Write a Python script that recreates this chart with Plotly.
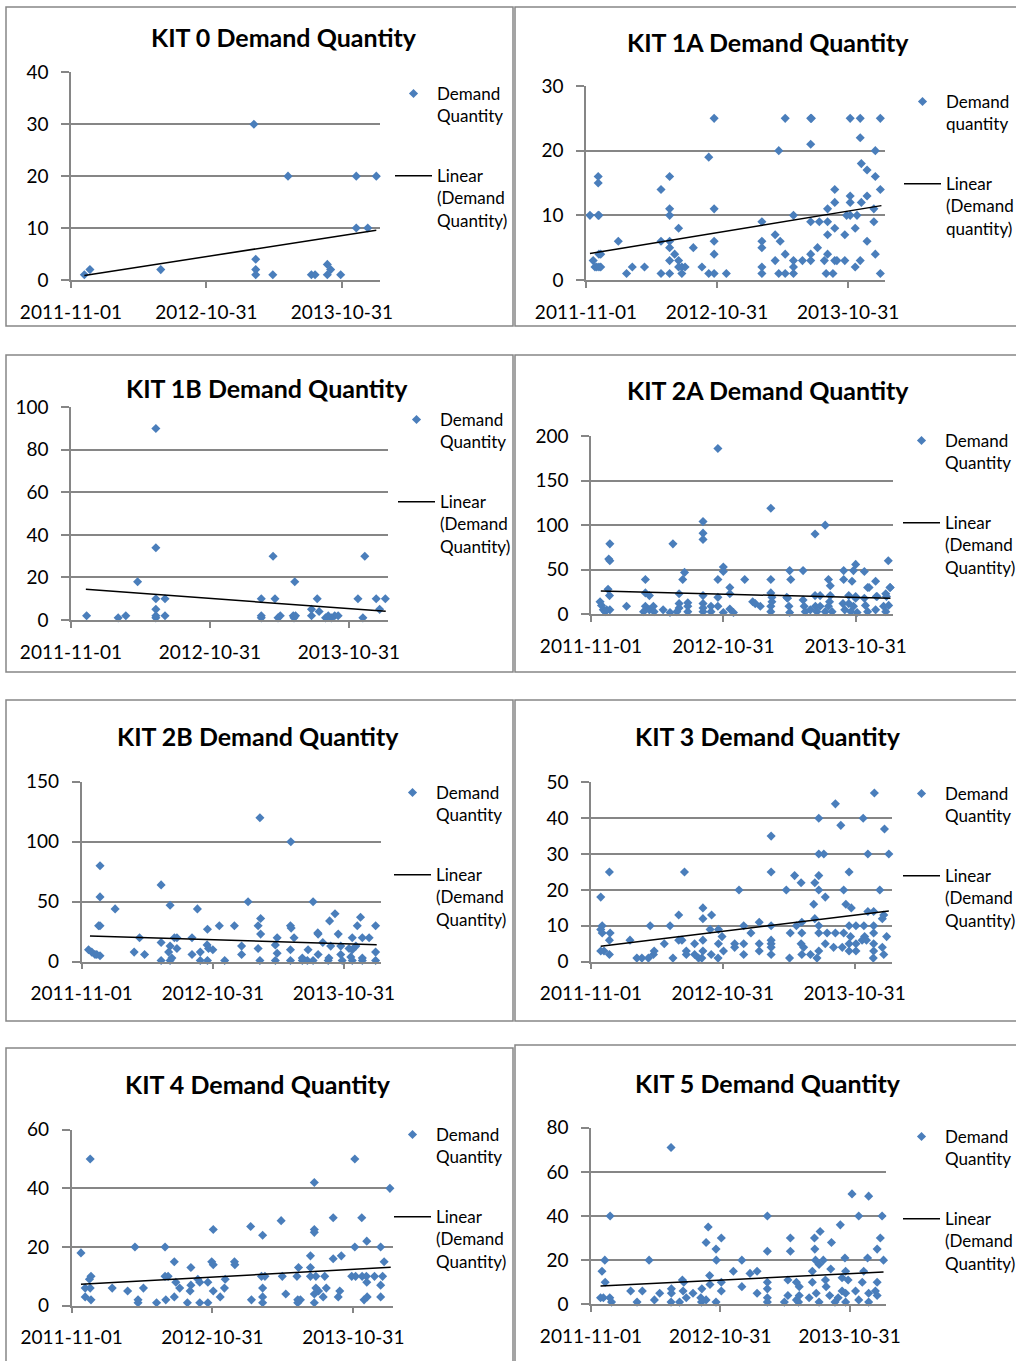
import pandas as pd
import plotly.graph_objects as go

# ---------------- DATA (days since 2011-11-01, demand quantity) ----------------
BASE_DATE = "2011-11-01"
TICK_DATES = ["2011-11-01", "2012-10-31", "2013-10-31"]
AXIS_END_DAYS = 833

kit0_days = [36, 51, 242, 493, 498, 498, 498, 544, 585, 648, 658, 691, 700, 691, 727, 769, 769, 800, 823]
kit0_qty = [1, 2, 2, 30, 4, 2, 1, 1, 20, 1, 1, 3, 2, 1, 1, 20, 10, 10, 20]
kit0_trend_days = [36, 823]
kit0_trend_qty = [0.85, 9.6]

kit1a_days = [357, 555, 626, 628, 736, 764, 820, 764, 626, 537, 806, 342, 767, 783, 34, 233, 806, 34,
              209, 693, 820, 736, 783, 693, 736, 767, 233, 357, 673, 802,
              11, 34, 36, 233, 578, 726, 736, 755, 490, 626, 650, 673, 802, 258, 693, 750, 527, 673, 721,
              90, 209, 233, 357, 490, 541, 783, 233, 299, 490, 645,
              36, 41, 247, 357, 555, 626, 673, 806,
              20, 233, 258, 527, 578, 603, 626, 664, 693, 699, 721, 764,
              25, 30, 36, 41, 129, 163, 258, 267, 276, 323, 490, 578, 750,
              113, 209, 233, 267, 342, 357, 391, 490, 537, 555, 578, 669, 688, 820]
kit1a_qty = [25, 25, 25, 25, 25, 25, 25, 22, 21, 20, 20, 19, 18, 17, 16, 16, 16, 15,
             14, 14, 14, 13, 13, 12, 12, 12, 11, 11, 11, 11,
             10, 10, 10, 10, 10, 10, 10, 10, 9, 9, 9, 9, 9, 8, 8, 8, 7, 7, 7,
             6, 6, 6, 6, 6, 6, 6, 5, 5, 5, 5,
             4, 4, 4, 4, 4, 4, 4, 4,
             3, 3, 3, 3, 3, 3, 3, 3, 3, 3, 3, 3,
             2, 2, 2, 2, 2, 2, 2, 2, 2, 2, 2, 2, 2,
             1, 1, 1, 1, 1, 1, 1, 1, 1, 1, 1, 1, 1, 1]
kit1a_trend_days = [11, 823]
kit1a_trend_qty = [4.1, 11.5]

kit1b_days = [41, 124, 144, 175, 223, 223, 223, 223, 223, 223, 247, 247, 500, 500, 500, 531, 536, 544,
              550, 584, 586, 588, 590, 632, 632, 647, 652, 669, 676, 684, 693, 702, 754, 767, 772,
              802, 811, 826]
kit1b_qty = [2, 1, 2, 18, 90, 34, 10, 5, 2, 1, 10, 2, 10, 2, 1, 30, 10, 1,
             2, 2, 1, 18, 2, 2, 5, 10, 4, 1, 2, 1, 2, 2, 10, 1, 30,
             10, 5, 10]
kit1b_trend_days = [39, 827]
kit1b_trend_qty = [14.4, 4.1]

kit2a_days = [350, 496, 309, 646, 618, 309, 309, 52, 226, 49, 52, 820, 365, 365, 730, 258, 697, 724,
              548, 585, 754, 150, 253, 350, 424, 496, 551, 655, 697, 720, 785, 660, 763, 825, 47,
              383, 383, 150, 161, 243, 496, 499, 540, 309, 350, 51, 618, 632, 660, 711, 730, 787,
              813, 25, 29, 34, 43, 52, 39, 98, 145, 150, 161, 172, 174, 199, 218, 243, 243, 237,
              267, 267, 267, 309, 309, 309, 331, 331, 350, 365, 383, 393, 446, 453, 467, 496, 496,
              499, 542, 546, 548, 585, 588, 591, 605, 619, 623, 632, 646, 655, 658, 665, 695, 700,
              711, 717, 724, 730, 734, 754, 757, 763, 767, 785, 789, 807, 813, 815, 821, 825]
kit2a_qty = [186, 119, 104, 100, 90, 91, 84, 79, 79, 62, 60, 60, 53, 48, 56, 47, 49, 49,
             49, 49, 48, 39, 39, 39, 39, 39, 39, 39, 39, 37, 37, 32, 30, 30, 28,
             30, 23, 24, 21, 23, 24, 19, 19, 21, 19, 21, 21, 21, 21, 21, 20, 20,
             23, 14, 10, 5, 5, 5, 3, 9, 3, 9, 5, 9, 3, 5, 2, 12, 7, 3,
             13, 9, 3, 12, 7, 3, 9, 3, 9, 2, 6, 2, 14, 12, 9, 9, 3,
             14, 18, 9, 2, 16, 9, 3, 5, 9, 3, 9, 3, 9, 14, 3, 12, 5,
             12, 3, 9, 18, 2, 18, 10, 3, 30, 5, 20, 9, 3, 20, 10, 30]
kit2a_trend_days = [27, 826]
kit2a_trend_qty = [26, 18]

kit2b_days = [496, 582, 51, 221, 51, 93, 246, 322, 463, 644, 705, 690, 776, 498,
              47, 51, 383, 425, 491, 581, 583, 767, 818, 350, 498, 657, 658, 714,
              161, 258, 265, 307, 544, 591, 753, 781, 800,
              221, 349, 246, 445, 539, 671, 693, 721, 763,
              265, 353, 365, 491, 581, 630, 744, 753, 19,
              28, 37, 51, 42, 146, 175, 242, 330, 307, 445, 544, 658, 721, 818, 749,
              221, 246, 330, 350, 398, 496, 539, 581, 614, 628, 644, 686, 725, 753, 781, 818,
              251, 614, 688, 781]
kit2b_qty = [120, 100, 80, 64, 54, 44, 47, 44, 50, 50, 40, 34, 37, 36,
             30, 30, 30, 30, 30, 30, 28, 30, 30, 27, 23, 24, 23, 23,
             20, 20, 20, 20, 20, 20, 20, 20, 20,
             16, 14, 13, 13, 14, 16, 13, 13, 13,
             11, 11, 10, 11, 10, 10, 11, 10, 10,
             8, 6, 5, 6, 8, 6, 8, 8, 6, 6, 7, 6, 6, 8, 4,
             1, 1, 1, 1, 1, 1, 1, 1, 1, 1, 1, 1, 1, 1, 1, 1,
             3, 3, 3, 3]
kit2b_trend_days = [23, 821]
kit2b_trend_qty = [21.5, 14.2]

kit3_days = [785, 677, 631, 754, 692, 813, 499, 631, 645, 767, 825, 51, 259, 499, 715, 564, 631, 582,
             620, 410, 541, 631, 700, 800, 27, 649, 617, 706, 721, 310, 310, 243, 334, 767, 783, 811,
             807, 620, 466, 584,
             31, 164, 219, 423, 499, 569, 631, 715, 734, 756, 783,
             27, 330, 353, 31, 53, 443, 552, 584, 631, 654, 677, 700, 783,
             363, 719, 819, 758,
             51, 108, 243, 252, 310, 499, 751, 763,
             203, 287, 353, 398, 423, 466, 499, 582, 649, 696, 715, 734, 783,
             27, 36, 264, 310, 367, 398, 466, 499, 589, 631, 672, 715, 734, 783, 807,
             51, 173, 264, 287, 333, 423, 499, 584, 608, 811,
             127, 141, 159, 227, 298, 307, 352, 550, 626, 782, 175]
kit3_qty = [47, 44, 40, 40, 38, 37, 35, 30, 30, 30, 30, 25, 25, 25, 25, 24, 24, 22,
            22, 20, 20, 20, 20, 20, 18, 18, 16, 16, 15, 15, 12, 13, 13, 14, 14, 13,
            12, 12, 11, 11,
            10, 10, 10, 10, 10, 10, 10, 10, 10, 10, 10,
            9, 9, 9, 8, 8, 8, 8, 8, 8, 8, 8, 8, 8,
            7, 7, 7, 7,
            6, 6, 6, 6, 6, 6, 6, 6,
            5, 5, 5, 5, 5, 5, 5, 5, 5, 4, 5, 5, 5,
            3, 3, 3, 3, 3, 4, 3, 4, 4, 3, 4, 3, 3, 3, 4,
            2, 2, 2, 2, 2, 2, 2, 2, 2, 2,
            1, 1, 1, 1, 1, 1, 1, 1, 1, 1, 3]
kit3_trend_days = [27, 825]
kit3_trend_qty = [4.3, 14.1]

kit4_days = [48, 734, 629, 825, 678, 752, 543, 464, 367, 495, 629, 629, 765, 24, 164, 242, 734, 801,
             619, 699, 678, 266, 363, 422, 810, 367, 423, 309, 588, 619,
             50, 46, 242, 250, 327, 398, 492, 501, 546, 584, 619, 633, 656, 726, 736, 753, 764, 785, 806,
             270, 332, 353, 309, 280, 765, 35, 48, 105, 186, 396, 495, 633, 660, 801,
             640, 145, 367, 307, 695,
             35, 50, 172, 244, 266, 385, 466, 495, 555, 586, 593, 652, 691, 758, 766, 801, 629,
             172, 220, 300, 332, 353, 495, 586, 629]
kit4_qty = [50, 50, 42, 40, 30, 30, 29, 27, 26, 24, 25, 26, 22, 18, 20, 20, 20, 20,
            17, 17, 16, 15, 15, 15, 15, 14, 14, 13, 13, 13,
            10, 9, 10, 10, 9, 9, 10, 10, 10, 10, 10, 10, 10, 10, 10, 10, 10, 10, 10,
            8, 8, 8, 7, 6, 8, 6, 6, 6, 6, 6, 6, 6, 6, 7,
            5, 5, 5, 5, 5,
            3, 2, 2, 2, 3, 3, 2, 3, 4, 2, 2, 3, 3, 2, 3, 3, 4,
            1, 1, 1, 1, 1, 1, 1, 1]
kit4_trend_days = [24, 827]
kit4_trend_qty = [7.3, 13.1]

kit5_days = [226, 737, 784, 54, 498, 756, 822, 704, 331, 647, 368, 563, 631, 817, 325, 679, 498, 563,
             632, 353, 808,
             39, 164, 354, 426, 656, 717, 634, 644, 781, 826,
             31, 402, 469, 449, 335, 677, 625, 719, 770,
             40, 258, 262, 368, 498, 556, 580, 625, 662, 709, 726, 766, 808,
             112, 145, 227, 260, 313, 368, 426, 498, 588, 664, 709, 747, 803,
             194, 227, 288, 336, 469, 556, 588, 636, 674, 719, 784, 808,
             27, 35, 53, 179, 269, 310, 325, 498, 580, 616, 698, 756,
             58, 130, 226, 250, 312, 353, 498, 546, 586, 644, 689, 719, 784]
kit5_qty = [71, 50, 49, 40, 40, 40, 40, 36, 35, 33, 30, 30, 30, 30, 28, 28, 24, 24,
            25, 25, 25,
            20, 20, 20, 20, 20, 21, 20, 18, 21, 20,
            15, 15, 15, 14, 13, 16, 15, 15, 15,
            10, 11, 10, 10, 10, 11, 10, 10, 11, 12, 11, 10, 10,
            6, 6, 7, 6, 7, 6, 8, 7, 8, 8, 6, 6, 6,
            5, 5, 5, 9, 5, 4, 4, 5, 4, 5, 5, 4,
            3, 3, 3, 2, 3, 3, 2, 3, 2, 3, 3, 2,
            1, 1, 1, 1, 1, 1, 1, 1, 1, 1, 1, 1, 1]
kit5_trend_days = [27, 826]
kit5_trend_qty = [8.3, 14.6]

# ---------------- LAYOUT SPEC (pixels in a 1016 x 1361 page) ----------------
W, H = 1016, 1361
BLUE = "#4A7EBB"
GRID = "#868686"
FONT = "Lato"

panels = [
    dict(title="KIT 0 Demand Quantity", days=kit0_days, qty=kit0_qty, td=kit0_trend_days, tq=kit0_trend_qty,
         ymax=40, dtick=10, plot=(71, 380, 72.3, 280), box=(6, 513, 7, 326), tpos=(284, 37),
         leg=(410, 94), name="Demand<br>Quantity", lname="Linear<br>(Demand<br>Quantity)"),
    dict(title="KIT 1A Demand Quantity", days=kit1a_days, qty=kit1a_qty, td=kit1a_trend_days, tq=kit1a_trend_qty,
         ymax=30, dtick=10, plot=(586, 885, 86, 280), box=(515, 1020, 7, 326), tpos=(768, 42),
         leg=(919, 102), name="Demand<br>quantity", lname="Linear<br>(Demand<br>quantity)"),
    dict(title="KIT 1B Demand Quantity", days=kit1b_days, qty=kit1b_qty, td=kit1b_trend_days, tq=kit1b_trend_qty,
         ymax=100, dtick=20, plot=(71, 388, 407.3, 620), box=(6, 513, 355, 672), tpos=(267, 388),
         leg=(413, 420), name="Demand<br>Quantity", lname="Linear<br>(Demand<br>Quantity)"),
    dict(title="KIT 2A Demand Quantity", days=kit2a_days, qty=kit2a_qty, td=kit2a_trend_days, tq=kit2a_trend_qty,
         ymax=200, dtick=50, plot=(591, 893, 436, 614.3), box=(515, 1020, 355, 672), tpos=(768, 390),
         leg=(918, 441), name="Demand<br>Quantity", lname="Linear<br>(Demand<br>Quantity)"),
    dict(title="KIT 2B Demand Quantity", days=kit2b_days, qty=kit2b_qty, td=kit2b_trend_days, tq=kit2b_trend_qty,
         ymax=150, dtick=50, plot=(81.7, 381, 781.7, 961.7), box=(6, 513, 700, 1021), tpos=(258, 736),
         leg=(409, 793), name="Demand<br>Quantity", lname="Linear<br>(Demand<br>Quantity)"),
    dict(title="KIT 3 Demand Quantity", days=kit3_days, qty=kit3_qty, td=kit3_trend_days, tq=kit3_trend_qty,
         ymax=50, dtick=10, plot=(591, 891.7, 782.3, 961.7), box=(515, 1020, 700, 1021), tpos=(768, 736),
         leg=(918, 794), name="Demand<br>Quantity", lname="Linear<br>(Demand<br>Quantity)"),
    dict(title="KIT 4 Demand Quantity", days=kit4_days, qty=kit4_qty, td=kit4_trend_days, tq=kit4_trend_qty,
         ymax=60, dtick=20, plot=(71.7, 393, 1129.7, 1305.7), box=(6, 513, 1048, 1365), tpos=(258, 1084),
         leg=(409, 1135), name="Demand<br>Quantity", lname="Linear<br>(Demand<br>Quantity)"),
    dict(title="KIT 5 Demand Quantity", days=kit5_days, qty=kit5_qty, td=kit5_trend_days, tq=kit5_trend_qty,
         ymax=80, dtick=20, plot=(591, 886, 1127.7, 1304.3), box=(515, 1020, 1045, 1365), tpos=(768, 1083),
         leg=(918, 1137), name="Demand<br>Quantity", lname="Linear<br>(Demand<br>Quantity)"),
]


def px(x):
    return x / W


def py(y):
    return 1 - y / H


base = pd.Timestamp(BASE_DATE)


def to_dates(days):
    return base + pd.to_timedelta(days, unit="D")


fig = go.Figure()
shapes, annotations = [], []
layout_extra = {}

for i, p in enumerate(panels):
    k = "" if i == 0 else str(i + 1)
    xa, ya = "x" + k, "y" + k
    leg = "legend" + k
    fig.add_trace(go.Scatter(
        x=to_dates(p["days"]), y=p["qty"], mode="markers", name=p["name"],
        marker=dict(symbol="diamond", size=7, color=BLUE, line=dict(width=0)),
        xaxis=xa, yaxis=ya, legend=leg, legendgroup="d" + k, cliponaxis=False))
    fig.add_trace(go.Scatter(
        x=to_dates(p["td"]), y=p["tq"], mode="lines", name=p["lname"],
        line=dict(color="black", width=1.5),
        xaxis=xa, yaxis=ya, legend=leg, legendgroup="t" + k))

    x0, x1, yt, yb = p["plot"]
    layout_extra["xaxis" + k] = dict(
        domain=[px(x0), px(x1)], anchor=ya, type="date", automargin=False,
        range=[base, base + pd.Timedelta(days=AXIS_END_DAYS)],
        tickvals=TICK_DATES, ticktext=TICK_DATES,
        showgrid=False, zeroline=False, showline=True, linecolor=GRID, linewidth=1.5,
        ticks="outside", ticklen=6, tickcolor=GRID, tickwidth=1.5,
        ticklabelstandoff=8,
        tickfont=dict(family=FONT, size=19, color="black"))
    layout_extra["yaxis" + k] = dict(
        domain=[py(yb), py(yt)], anchor=xa, range=[0, p["ymax"]], dtick=p["dtick"],
        automargin=False,
        showgrid=True, gridcolor=GRID, gridwidth=1.5, zeroline=False,
        showline=True, linecolor=GRID, linewidth=1.5,
        ticks="outside", ticklen=8, tickcolor=GRID, tickwidth=1.5,
        ticklabelstandoff=9,
        tickfont=dict(family=FONT, size=19, color="black"))

    lx, ly = p["leg"]
    layout_extra[leg] = dict(
        xref="container", yref="container",
        x=px(lx - 20), y=py(ly - 18), xanchor="left", yanchor="top",
        bgcolor="rgba(0,0,0,0)", borderwidth=0,
        font=dict(family=FONT, size=17, color="black"),
        itemwidth=37, valign="top", traceorder="grouped", tracegroupgap=35)

    bx0, bx1, by0, by1 = p["box"]
    shapes.append(dict(type="rect", xref="paper", yref="paper",
                       x0=px(bx0), x1=px(bx1), y0=py(by1), y1=py(by0),
                       line=dict(color=GRID, width=1.5), layer="below"))
    tx, ty = p["tpos"]
    annotations.append(dict(text="<b>" + p["title"] + "</b>", xref="paper", yref="paper",
                            x=px(tx), y=py(ty), xanchor="center", yanchor="middle",
                            showarrow=False, font=dict(family=FONT, size=25, color="black")))

fig.update_layout(
    width=W, height=H, margin=dict(l=0, r=0, t=0, b=0, autoexpand=False),
    paper_bgcolor="white", plot_bgcolor="white",
    showlegend=True, shapes=shapes, annotations=annotations,
    **layout_extra)

fig.write_html("out.html", config={"displayModeBar": False},
               post_script="document.body.style.margin='0px';document.body.style.overflow='hidden';")
